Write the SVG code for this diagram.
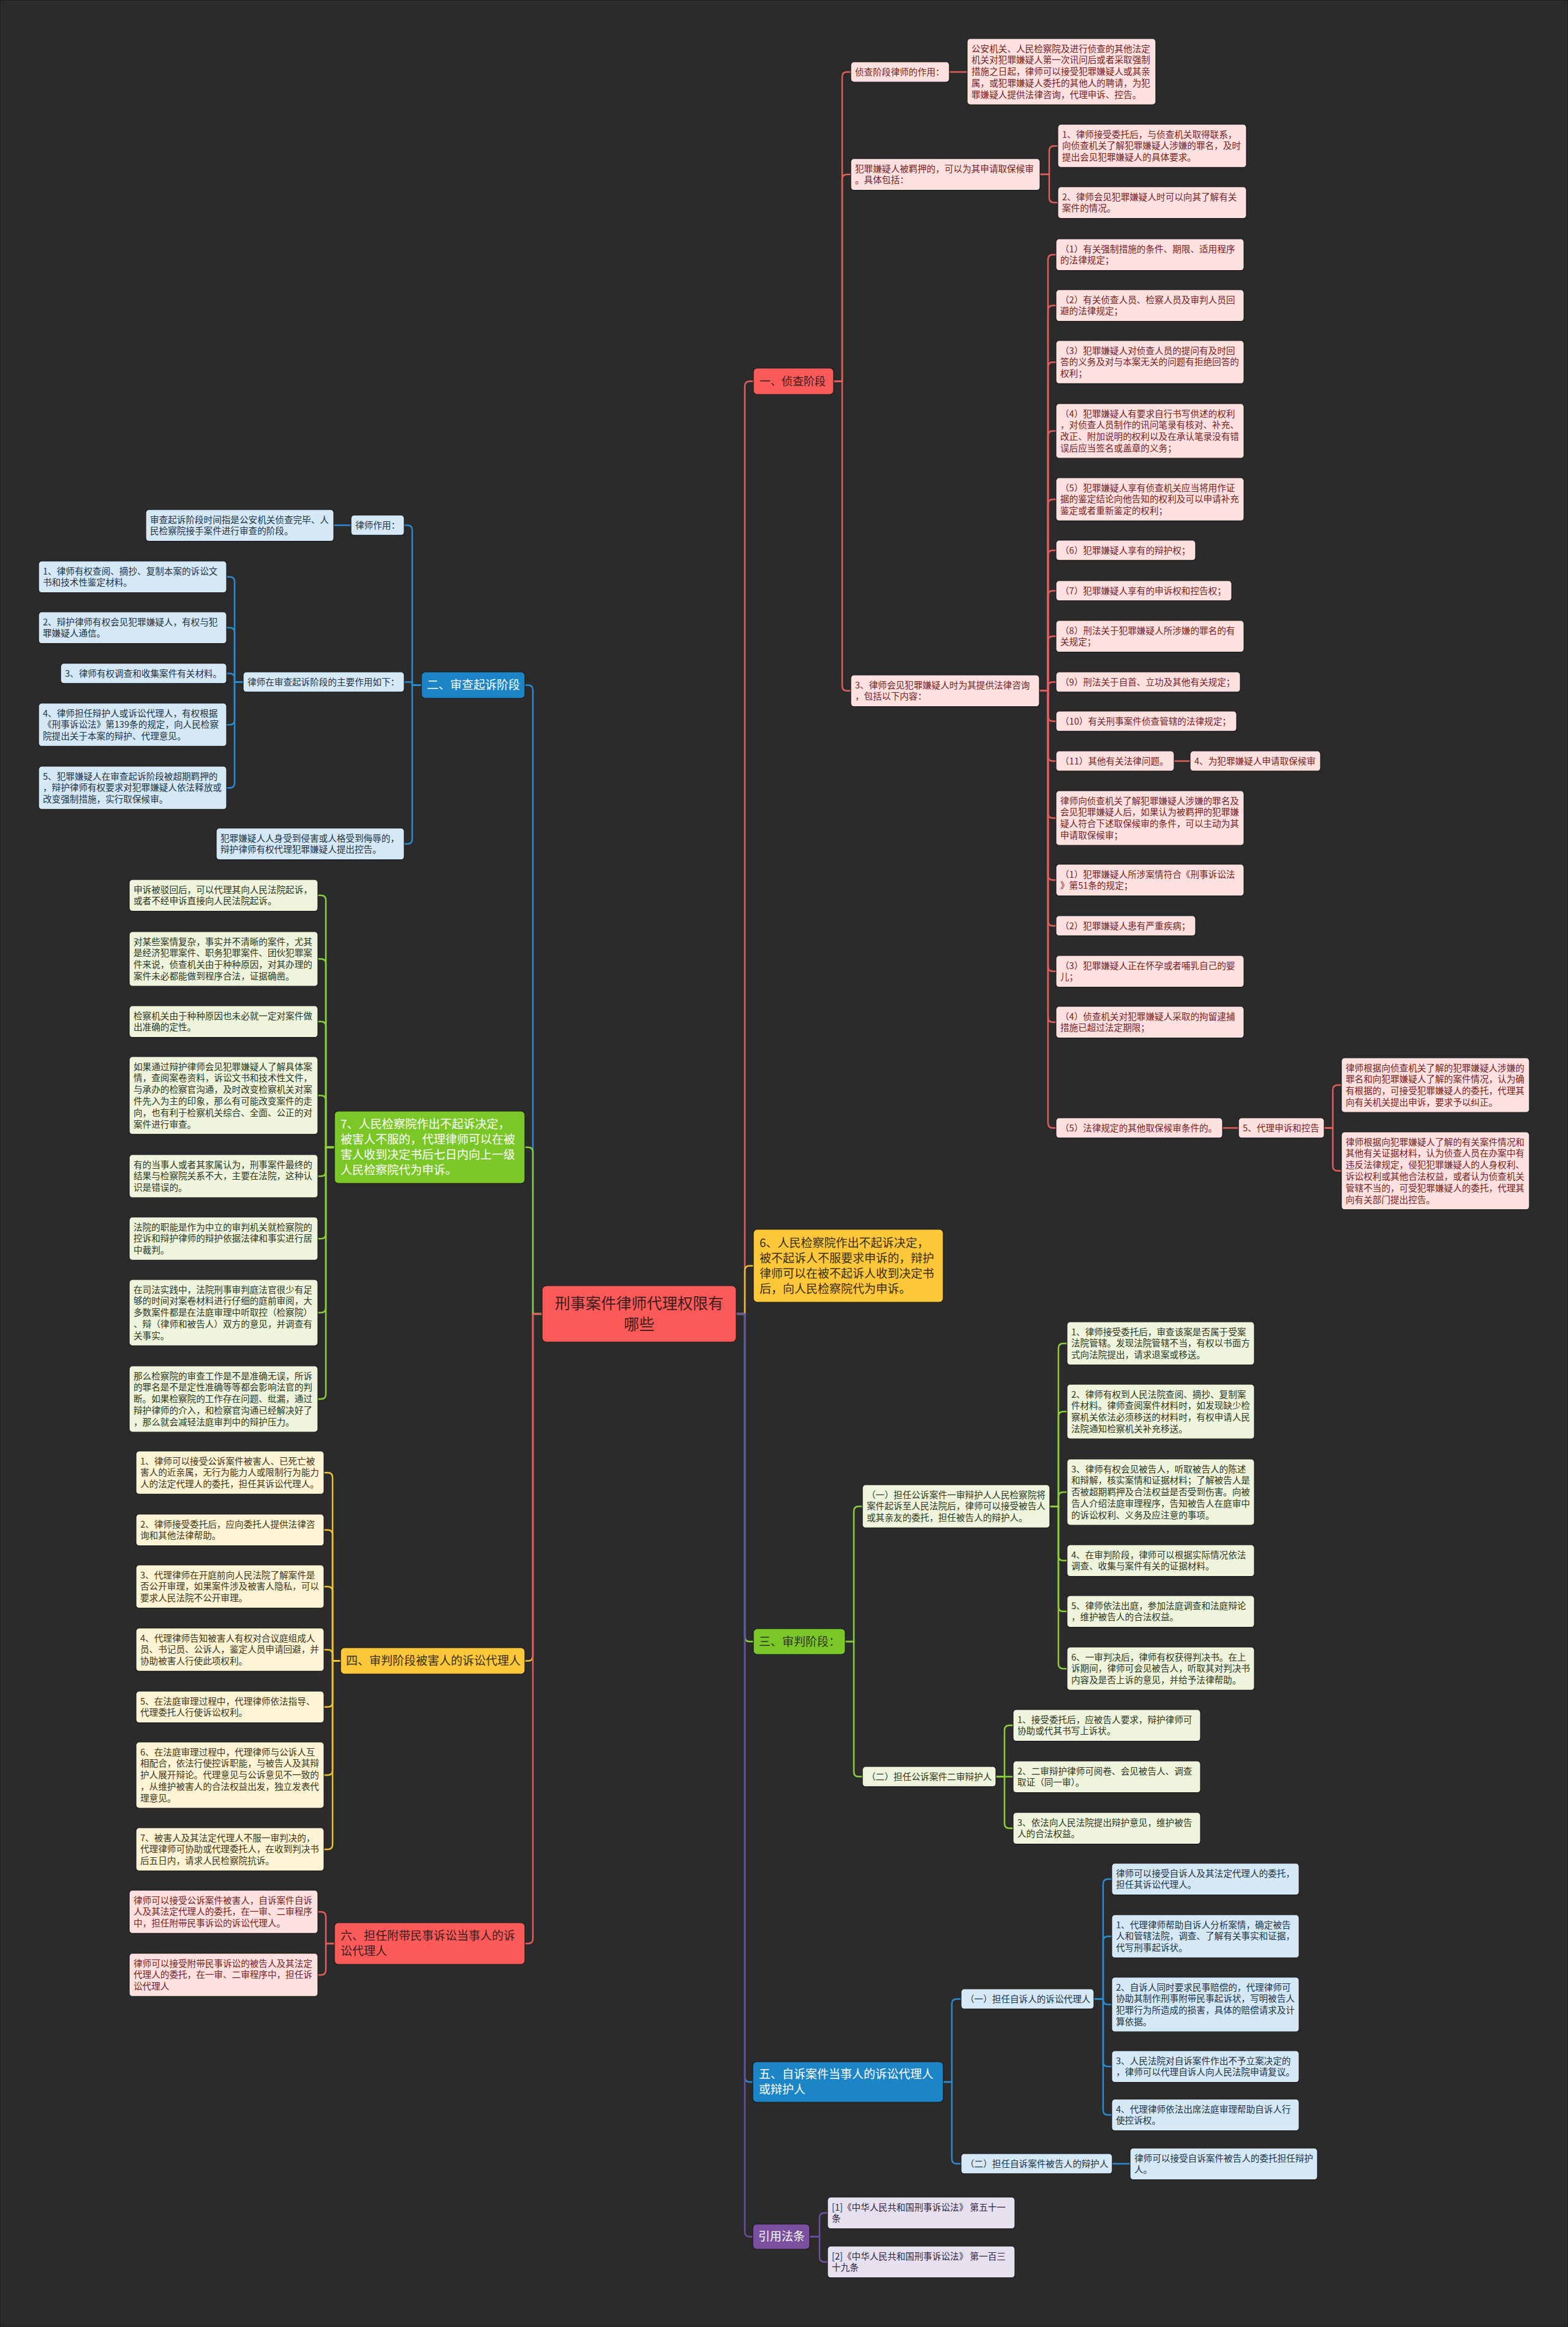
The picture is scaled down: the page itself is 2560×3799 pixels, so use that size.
<svg xmlns="http://www.w3.org/2000/svg" width="2560" height="3799" viewBox="0 0 2560 3799">
<style>
text{font-family:"Noto Sans CJK SC","Noto Sans",sans-serif}
rect{stroke:#1a1a1a;stroke-width:1.2}
.lf text{font-size:14.6px}
.br text{font-size:19px}
.lr rect{fill:#fde1e1}.lr text{fill:#7a2020}
.ly rect{fill:#fdf4d6}.ly text{fill:#3d3414}
.lg rect{fill:#eef5dc}.lg text{fill:#2c3520}
.lb rect{fill:#d5e8f5}.lb text{fill:#1d3346}
.lp rect{fill:#e6e0ef}.lp text{fill:#2d2540}
.br-r rect{fill:#fc5959}.br-r text{fill:#3a1e1e}
.br-y rect{fill:#fdc73a}.br-y text{fill:#3a2e10}
.br-g rect{fill:#7cc728}
.br-b rect{fill:#1c85c8}.br-b text{fill:#ffffff}
.br-p rect{fill:#7b4fa0}.br-p text{fill:#ffffff}
.cn path{fill:none;stroke-width:2.5;stroke-linecap:round}
.cr{stroke:#e35d5d}.cy{stroke:#f0c030}.cg{stroke:#8ccf3c}.cb{stroke:#2a8bd2}.cp{stroke:#6e4ea3}
.tk{stroke-width:3}
</style>
<rect x="0" y="0" width="2560" height="3799" fill="#2b2b2b" stroke="none"/>
<g id="connectors" class="cn">
<path class="cr tk" d="M1202 2145 H1216 V630.5 Q1216 622.5 1224 622.5 H1230"/>
<path class="cy tk" d="M1202 2145 H1216 V2074.5 Q1216 2066.5 1224 2066.5 H1230"/>
<path class="cg tk" d="M1202 2145 H1216 V2672 Q1216 2680 1224 2680 H1230"/>
<path class="cb tk" d="M1202 2145 H1216 V3391 Q1216 3399 1224 3399 H1229"/>
<path class="cp tk" d="M1202 2145 H1216 V3643.5 Q1216 3651.5 1224 3651.5 H1229"/>
<path class="cb tk" d="M885 2145 H870 V1126.5 Q870 1118.5 862 1118.5 H857"/>
<path class="cg tk" d="M885 2145 H870 V1881 Q870 1873 862 1873 H857"/>
<path class="cy tk" d="M885 2145 H870 V2703.5 Q870 2711.5 862 2711.5 H857"/>
<path class="cr tk" d="M885 2145 H870 V3165 Q870 3173 862 3173 H857"/>
<path class="cr" d="M1361 622.5 H1375 V125.4 Q1375 117.4 1383 117.4 H1389"/>
<path class="cr" d="M1361 622.5 H1375 V292.8 Q1375 284.8 1383 284.8 H1389"/>
<path class="cr" d="M1361 622.5 H1375 V1119.8 Q1375 1127.8 1383 1127.8 H1389"/>
<path class="cr" d="M1550 117.4 H1579"/>
<path class="cr" d="M1698 284.8 H1713 V246.2 Q1713 238.2 1721 238.2 H1727"/>
<path class="cr" d="M1698 284.8 H1713 V322.8 Q1713 330.8 1721 330.8 H1727"/>
<path class="cr" d="M1697 1127.8 H1711 V423.8 Q1711 415.8 1719 415.8 H1724"/>
<path class="cr" d="M1697 1127.8 H1711 V506.8 Q1711 498.8 1719 498.8 H1724"/>
<path class="cr" d="M1697 1127.8 H1711 V599.2 Q1711 591.2 1719 591.2 H1724"/>
<path class="cr" d="M1697 1127.8 H1711 V711.6 Q1711 703.6 1719 703.6 H1724"/>
<path class="cr" d="M1697 1127.8 H1711 V823.2 Q1711 815.2 1719 815.2 H1724"/>
<path class="cr" d="M1697 1127.8 H1711 V906.4 Q1711 898.4 1719 898.4 H1724"/>
<path class="cr" d="M1697 1127.8 H1711 V972.4 Q1711 964.4 1719 964.4 H1724"/>
<path class="cr" d="M1697 1127.8 H1711 V1046.8 Q1711 1038.8 1719 1038.8 H1724"/>
<path class="cr" d="M1697 1127.8 H1711 V1121.4 Q1711 1113.4 1719 1113.4 H1724"/>
<path class="cr" d="M1697 1127.8 H1711 V1169.4 Q1711 1177.4 1719 1177.4 H1724"/>
<path class="cr" d="M1697 1127.8 H1711 V1234.4 Q1711 1242.4 1719 1242.4 H1724"/>
<path class="cr" d="M1697 1127.8 H1711 V1327.6 Q1711 1335.6 1719 1335.6 H1724"/>
<path class="cr" d="M1697 1127.8 H1711 V1428.8 Q1711 1436.8 1719 1436.8 H1724"/>
<path class="cr" d="M1697 1127.8 H1711 V1503.4 Q1711 1511.4 1719 1511.4 H1724"/>
<path class="cr" d="M1697 1127.8 H1711 V1577.8 Q1711 1585.8 1719 1585.8 H1724"/>
<path class="cr" d="M1697 1127.8 H1711 V1660.8 Q1711 1668.8 1719 1668.8 H1724"/>
<path class="cr" d="M1697 1127.8 H1711 V1833.4 Q1711 1841.4 1719 1841.4 H1724"/>
<path class="cr" d="M1917 1242.4 H1943"/>
<path class="cr" d="M1996 1841.4 H2022"/>
<path class="cr" d="M2162 1841.4 H2176 V1779.6 Q2176 1771.6 2184 1771.6 H2190"/>
<path class="cr" d="M2162 1841.4 H2176 V1903.4 Q2176 1911.4 2184 1911.4 H2190"/>
<path class="cg" d="M1380 2680 H1394 V2467.2 Q1394 2459.2 1402 2459.2 H1408"/>
<path class="cg" d="M1380 2680 H1394 V2892.4 Q1394 2900.4 1402 2900.4 H1408"/>
<path class="cg" d="M1714 2459.2 H1728 V2201.2 Q1728 2193.2 1736 2193.2 H1742"/>
<path class="cg" d="M1714 2459.2 H1728 V2312.6 Q1728 2304.6 1736 2304.6 H1742"/>
<path class="cg" d="M1714 2459.2 H1728 V2444 Q1728 2436 1736 2436 H1742"/>
<path class="cg" d="M1714 2459.2 H1728 V2539.8 Q1728 2547.8 1736 2547.8 H1742"/>
<path class="cg" d="M1714 2459.2 H1728 V2622.8 Q1728 2630.8 1736 2630.8 H1742"/>
<path class="cg" d="M1714 2459.2 H1728 V2716.2 Q1728 2724.2 1736 2724.2 H1742"/>
<path class="cg" d="M1626 2900.4 H1640 V2824.8 Q1640 2816.8 1648 2816.8 H1654"/>
<path class="cg" d="M1626 2900.4 H1654"/>
<path class="cg" d="M1626 2900.4 H1640 V2976.8 Q1640 2984.8 1648 2984.8 H1654"/>
<path class="cb" d="M1540 3399 H1554 V3271.4 Q1554 3263.4 1562 3263.4 H1569"/>
<path class="cb" d="M1540 3399 H1554 V3524.4 Q1554 3532.4 1562 3532.4 H1569"/>
<path class="cb" d="M1786 3263.4 H1801 V3075.8 Q1801 3067.8 1809 3067.8 H1815"/>
<path class="cb" d="M1786 3263.4 H1801 V3169.2 Q1801 3161.2 1809 3161.2 H1815"/>
<path class="cb" d="M1786 3263.4 H1801 V3264.6 Q1801 3272.6 1809 3272.6 H1815"/>
<path class="cb" d="M1786 3263.4 H1801 V3365.8 Q1801 3373.8 1809 3373.8 H1815"/>
<path class="cb" d="M1786 3263.4 H1801 V3444.8 Q1801 3452.8 1809 3452.8 H1815"/>
<path class="cb" d="M1816 3532.4 H1845"/>
<path class="cp" d="M1322 3651.5 H1338 V3620.8 Q1338 3612.8 1346 3612.8 H1351"/>
<path class="cp" d="M1322 3651.5 H1338 V3684.8 Q1338 3692.8 1346 3692.8 H1351"/>
<path class="cb" d="M688 1118.5 H673 V865.4 Q673 857.4 665 857.4 H660"/>
<path class="cb" d="M688 1118.5 H673 V1113.4 H660"/>
<path class="cb" d="M688 1118.5 H673 V1369.8 Q673 1377.8 665 1377.8 H660"/>
<path class="cb" d="M573 857.4 H545"/>
<path class="cb" d="M397 1113.4 H383 V949.8 Q383 941.8 375 941.8 H370"/>
<path class="cb" d="M397 1113.4 H383 V1032.8 Q383 1024.8 375 1024.8 H370"/>
<path class="cb" d="M397 1113.4 H383 V1107.4 Q383 1099.4 375 1099.4 H370"/>
<path class="cb" d="M397 1113.4 H383 V1175.2 Q383 1183.2 375 1183.2 H370"/>
<path class="cb" d="M397 1113.4 H383 V1278.2 Q383 1286.2 375 1286.2 H370"/>
<path class="cg" d="M546 1873 H532 V1469.8 Q532 1461.8 524 1461.8 H519"/>
<path class="cg" d="M546 1873 H532 V1573.6 Q532 1565.6 524 1565.6 H519"/>
<path class="cg" d="M546 1873 H532 V1675.8 Q532 1667.8 524 1667.8 H519"/>
<path class="cg" d="M546 1873 H532 V1796.4 Q532 1788.4 524 1788.4 H519"/>
<path class="cg" d="M546 1873 H532 V1912.2 Q532 1920.2 524 1920.2 H519"/>
<path class="cg" d="M546 1873 H532 V2014.2 Q532 2022.2 524 2022.2 H519"/>
<path class="cg" d="M546 1873 H532 V2135 Q532 2143 524 2143 H519"/>
<path class="cg" d="M546 1873 H532 V2276 Q532 2284 524 2284 H519"/>
<path class="cy" d="M556 2711.5 H543 V2412.2 Q543 2404.2 535 2404.2 H529"/>
<path class="cy" d="M556 2711.5 H543 V2505.8 Q543 2497.8 535 2497.8 H529"/>
<path class="cy" d="M556 2711.5 H543 V2598.2 Q543 2590.2 535 2590.2 H529"/>
<path class="cy" d="M556 2711.5 H543 V2701.2 Q543 2693.2 535 2693.2 H529"/>
<path class="cy" d="M556 2711.5 H543 V2778.8 Q543 2786.8 535 2786.8 H529"/>
<path class="cy" d="M556 2711.5 H543 V2890 Q543 2898 535 2898 H529"/>
<path class="cy" d="M556 2711.5 H543 V3011.2 Q543 3019.2 535 3019.2 H529"/>
<path class="cr" d="M546 3173 H532 V3129.2 Q532 3121.2 524 3121.2 H519"/>
<path class="cr" d="M546 3173 H532 V3216.2 Q532 3224.2 524 3224.2 H519"/>
</g>

<g id="root" class="br-r"><rect x="885" y="2099" width="317" height="92" rx="7"/>
<text x="1043.5" y="2137" font-size="25" text-anchor="middle"><tspan x="1043.5">刑事案件律师代理权限有</tspan><tspan x="1043.5" dy="34">哪些</tspan></text></g>

<g id="b1" class="br br-r"><rect x="1230" y="601" width="131" height="43" rx="6"/><text x="1240" y="629" style="font-size:18px">一、侦查阶段</text></g>
<g id="b1a" class="lf lr"><rect x="1389" y="101" width="161" height="33" rx="5"/><text x="1396" y="122.6">侦查阶段律师的作用：</text></g>
<g id="b1a1" class="lf lr"><rect x="1579" y="63" width="308" height="108" rx="5"/><text x="1586" y="84.6"><tspan x="1586">公安机关、人民检察院及进行侦查的其他法定</tspan><tspan x="1586" dy="18.8">机关对犯罪嫌疑人第一次讯问后或者采取强制</tspan><tspan x="1586" dy="18.8">措施之日起，律师可以接受犯罪嫌疑人或其亲</tspan><tspan x="1586" dy="18.8">属，或犯罪嫌疑人委托的其他人的聘请，为犯</tspan><tspan x="1586" dy="18.8">罪嫌疑人提供法律咨询，代理申诉、控告。</tspan></text></g>
<g id="b1b" class="lf lr"><rect x="1389" y="259" width="309" height="51.6" rx="5"/><text x="1396" y="280.6"><tspan x="1396">犯罪嫌疑人被羁押的，可以为其申请取保候审</tspan><tspan x="1396" dy="18.8">。具体包括：</tspan></text></g>
<g id="b1b1" class="lf lr"><rect x="1727" y="203" width="308" height="70.4" rx="5"/><text x="1734" y="224.6"><tspan x="1734">1、律师接受委托后，与侦查机关取得联系，</tspan><tspan x="1734" dy="18.8">向侦查机关了解犯罪嫌疑人涉嫌的罪名，及时</tspan><tspan x="1734" dy="18.8">提出会见犯罪嫌疑人的具体要求。</tspan></text></g>
<g id="b1b2" class="lf lr"><rect x="1727" y="305" width="308" height="51.6" rx="5"/><text x="1734" y="326.6"><tspan x="1734">2、律师会见犯罪嫌疑人时可以向其了解有关</tspan><tspan x="1734" dy="18.8">案件的情况。</tspan></text></g>
<g id="b1c" class="lf lr"><rect x="1389" y="1102" width="308" height="51.6" rx="5"/><text x="1396" y="1123.6"><tspan x="1396">3、律师会见犯罪嫌疑人时为其提供法律咨询</tspan><tspan x="1396" dy="18.8">，包括以下内容：</tspan></text></g>
<g id="c1" class="lf lr"><rect x="1724" y="390" width="307" height="51.6" rx="5"/><text x="1731" y="411.6"><tspan x="1731">（1）有关强制措施的条件、期限、适用程序</tspan><tspan x="1731" dy="18.8">的法律规定；</tspan></text></g>
<g id="c2" class="lf lr"><rect x="1724" y="473" width="307" height="51.6" rx="5"/><text x="1731" y="494.6"><tspan x="1731">（2）有关侦查人员、检察人员及审判人员回</tspan><tspan x="1731" dy="18.8">避的法律规定；</tspan></text></g>
<g id="c3" class="lf lr"><rect x="1724" y="556" width="307" height="70.4" rx="5"/><text x="1731" y="577.6"><tspan x="1731">（3）犯罪嫌疑人对侦查人员的提问有及时回</tspan><tspan x="1731" dy="18.8">答的义务及对与本案无关的问题有拒绝回答的</tspan><tspan x="1731" dy="18.8">权利；</tspan></text></g>
<g id="c4" class="lf lr"><rect x="1724" y="659" width="307" height="89.2" rx="5"/><text x="1731" y="680.6"><tspan x="1731">（4）犯罪嫌疑人有要求自行书写供述的权利</tspan><tspan x="1731" dy="18.8">，对侦查人员制作的讯问笔录有核对、补充、</tspan><tspan x="1731" dy="18.8">改正、附加说明的权利以及在承认笔录没有错</tspan><tspan x="1731" dy="18.8">误后应当签名或盖章的义务；</tspan></text></g>
<g id="c5" class="lf lr"><rect x="1724" y="780" width="307" height="70.4" rx="5"/><text x="1731" y="801.6"><tspan x="1731">（5）犯罪嫌疑人享有侦查机关应当将用作证</tspan><tspan x="1731" dy="18.8">据的鉴定结论向他告知的权利及可以申请补充</tspan><tspan x="1731" dy="18.8">鉴定或者重新鉴定的权利；</tspan></text></g>
<g id="c6" class="lf lr"><rect x="1724" y="882" width="228" height="32.8" rx="5"/><text x="1731" y="903.6">（6）犯罪嫌疑人享有的辩护权；</text></g>
<g id="c7" class="lf lr"><rect x="1724" y="948" width="287" height="32.8" rx="5"/><text x="1731" y="969.6">（7）犯罪嫌疑人享有的申诉权和控告权；</text></g>
<g id="c8" class="lf lr"><rect x="1724" y="1013" width="307" height="51.6" rx="5"/><text x="1731" y="1034.6"><tspan x="1731">（8）刑法关于犯罪嫌疑人所涉嫌的罪名的有</tspan><tspan x="1731" dy="18.8">关规定；</tspan></text></g>
<g id="c9" class="lf lr"><rect x="1724" y="1097" width="301" height="32.8" rx="5"/><text x="1731" y="1118.6">（9）刑法关于自首、立功及其他有关规定；</text></g>
<g id="c10" class="lf lr"><rect x="1724" y="1161" width="295" height="32.8" rx="5"/><text x="1731" y="1182.6">（10）有关刑事案件侦查管辖的法律规定；</text></g>
<g id="c11" class="lf lr"><rect x="1724" y="1226" width="193" height="32.8" rx="5"/><text x="1731" y="1247.6">（11）其他有关法律问题。</text></g>
<g id="c11a" class="lf lr"><rect x="1943" y="1226" width="213" height="32.8" rx="5"/><text x="1950" y="1247.6">4、为犯罪嫌疑人申请取保候审</text></g>
<g id="c12" class="lf lr"><rect x="1724" y="1291" width="307" height="89.2" rx="5"/><text x="1731" y="1312.6"><tspan x="1731">律师向侦查机关了解犯罪嫌疑人涉嫌的罪名及</tspan><tspan x="1731" dy="18.8">会见犯罪嫌疑人后，如果认为被羁押的犯罪嫌</tspan><tspan x="1731" dy="18.8">疑人符合下述取保候审的条件，可以主动为其</tspan><tspan x="1731" dy="18.8">申请取保候审；</tspan></text></g>
<g id="c13" class="lf lr"><rect x="1724" y="1411" width="307" height="51.6" rx="5"/><text x="1731" y="1432.6"><tspan x="1731">（1）犯罪嫌疑人所涉案情符合《刑事诉讼法</tspan><tspan x="1731" dy="18.8">》第51条的规定；</tspan></text></g>
<g id="c14" class="lf lr"><rect x="1724" y="1495" width="228" height="32.8" rx="5"/><text x="1731" y="1516.6">（2）犯罪嫌疑人患有严重疾病；</text></g>
<g id="c15" class="lf lr"><rect x="1724" y="1560" width="307" height="51.6" rx="5"/><text x="1731" y="1581.6"><tspan x="1731">（3）犯罪嫌疑人正在怀孕或者哺乳自己的婴</tspan><tspan x="1731" dy="18.8">儿；</tspan></text></g>
<g id="c16" class="lf lr"><rect x="1724" y="1643" width="307" height="51.6" rx="5"/><text x="1731" y="1664.6"><tspan x="1731">（4）侦查机关对犯罪嫌疑人采取的拘留逮捕</tspan><tspan x="1731" dy="18.8">措施已超过法定期限；</tspan></text></g>
<g id="c17" class="lf lr"><rect x="1724" y="1825" width="272" height="32.8" rx="5"/><text x="1731" y="1846.6">（5）法律规定的其他取保候审条件的。</text></g>
<g id="c17a" class="lf lr"><rect x="2022" y="1825" width="140" height="32.8" rx="5"/><text x="2029" y="1846.6">5、代理申诉和控告</text></g>
<g id="c17a1" class="lf lr"><rect x="2190" y="1727" width="307" height="89.2" rx="5"/><text x="2197" y="1748.6"><tspan x="2197">律师根据向侦查机关了解的犯罪嫌疑人涉嫌的</tspan><tspan x="2197" dy="18.8">罪名和向犯罪嫌疑人了解的案件情况，认为确</tspan><tspan x="2197" dy="18.8">有根据的，可接受犯罪嫌疑人的委托，代理其</tspan><tspan x="2197" dy="18.8">向有关机关提出申诉，要求予以纠正。</tspan></text></g>
<g id="c17a2" class="lf lr"><rect x="2190" y="1848" width="307" height="126.8" rx="5"/><text x="2197" y="1869.6"><tspan x="2197">律师根据向犯罪嫌疑人了解的有关案件情况和</tspan><tspan x="2197" dy="18.8">其他有关证据材料，认为侦查人员在办案中有</tspan><tspan x="2197" dy="18.8">违反法律规定，侵犯犯罪嫌疑人的人身权利、</tspan><tspan x="2197" dy="18.8">诉讼权利或其他合法权益，或者认为侦查机关</tspan><tspan x="2197" dy="18.8">管辖不当的，可受犯罪嫌疑人的委托，代理其</tspan><tspan x="2197" dy="18.8">向有关部门提出控告。</tspan></text></g>

<g id="b6" class="br br-y"><rect x="1230" y="2007" width="310" height="119" rx="6"/><text x="1240" y="2035.7"><tspan x="1240">6、人民检察院作出不起诉决定，</tspan><tspan x="1240" dy="25">被不起诉人不服要求申诉的，辩护</tspan><tspan x="1240" dy="25">律师可以在被不起诉人收到决定书</tspan><tspan x="1240" dy="25">后，向人民检察院代为申诉。</tspan></text></g>

<g id="b3" class="br br-g"><rect x="1230" y="2659" width="150" height="42" rx="6"/><text x="1239" y="2686.7" fill="#2c3520">三、审判阶段：</text></g>
<g id="b3a" class="lf lg"><rect x="1408" y="2424" width="306" height="70.4" rx="5"/><text x="1415" y="2445.6"><tspan x="1415">（一）担任公诉案件一审辩护人人民检察院将</tspan><tspan x="1415" dy="18.8">案件起诉至人民法院后，律师可以接受被告人</tspan><tspan x="1415" dy="18.8">或其亲友的委托，担任被告人的辩护人。</tspan></text></g>
<g id="b3a1" class="lf lg"><rect x="1742" y="2158" width="306" height="70.4" rx="5"/><text x="1749" y="2179.6"><tspan x="1749">1、律师接受委托后，审查该案是否属于受案</tspan><tspan x="1749" dy="18.8">法院管辖。发现法院管辖不当，有权以书面方</tspan><tspan x="1749" dy="18.8">式向法院提出，请求退案或移送。</tspan></text></g>
<g id="b3a2" class="lf lg"><rect x="1742" y="2260" width="306" height="89.2" rx="5"/><text x="1749" y="2281.6"><tspan x="1749">2、律师有权到人民法院查阅、摘抄、复制案</tspan><tspan x="1749" dy="18.8">件材料。律师查阅案件材料时，如发现缺少检</tspan><tspan x="1749" dy="18.8">察机关依法必须移送的材料时，有权申请人民</tspan><tspan x="1749" dy="18.8">法院通知检察机关补充移送。</tspan></text></g>
<g id="b3a3" class="lf lg"><rect x="1742" y="2382" width="306" height="108" rx="5"/><text x="1749" y="2403.6"><tspan x="1749">3、律师有权会见被告人，听取被告人的陈述</tspan><tspan x="1749" dy="18.8">和辩解，核实案情和证据材料；了解被告人是</tspan><tspan x="1749" dy="18.8">否被超期羁押及合法权益是否受到伤害。向被</tspan><tspan x="1749" dy="18.8">告人介绍法庭审理程序，告知被告人在庭审中</tspan><tspan x="1749" dy="18.8">的诉讼权利、义务及应注意的事项。</tspan></text></g>
<g id="b3a4" class="lf lg"><rect x="1742" y="2522" width="306" height="51.6" rx="5"/><text x="1749" y="2543.6"><tspan x="1749">4、在审判阶段，律师可以根据实际情况依法</tspan><tspan x="1749" dy="18.8">调查、收集与案件有关的证据材料。</tspan></text></g>
<g id="b3a5" class="lf lg"><rect x="1742" y="2605" width="306" height="51.6" rx="5"/><text x="1749" y="2626.6"><tspan x="1749">5、律师依法出庭，参加法庭调查和法庭辩论</tspan><tspan x="1749" dy="18.8">，维护被告人的合法权益。</tspan></text></g>
<g id="b3a6" class="lf lg"><rect x="1742" y="2689" width="306" height="70.4" rx="5"/><text x="1749" y="2710.6"><tspan x="1749">6、一审判决后，律师有权获得判决书。在上</tspan><tspan x="1749" dy="18.8">诉期间，律师可会见被告人，听取其对判决书</tspan><tspan x="1749" dy="18.8">内容及是否上诉的意见，并给予法律帮助。</tspan></text></g>
<g id="b3b" class="lf lg"><rect x="1408" y="2884" width="218" height="32.8" rx="5"/><text x="1415" y="2905.6">（二）担任公诉案件二审辩护人</text></g>
<g id="b3b1" class="lf lg"><rect x="1654" y="2791" width="306" height="51.6" rx="5"/><text x="1661" y="2812.6"><tspan x="1661">1、接受委托后，应被告人要求，辩护律师可</tspan><tspan x="1661" dy="18.8">协助或代其书写上诉状。</tspan></text></g>
<g id="b3b2" class="lf lg"><rect x="1654" y="2875" width="306" height="51.6" rx="5"/><text x="1661" y="2896.6"><tspan x="1661">2、二审辩护律师可阅卷、会见被告人、调查</tspan><tspan x="1661" dy="18.8">取证（同一审）。</tspan></text></g>
<g id="b3b3" class="lf lg"><rect x="1654" y="2959" width="306" height="51.6" rx="5"/><text x="1661" y="2980.6"><tspan x="1661">3、依法向人民法院提出辩护意见，维护被告</tspan><tspan x="1661" dy="18.8">人的合法权益。</tspan></text></g>

<g id="b5" class="br br-b"><rect x="1229" y="3366" width="311" height="66" rx="6"/><text x="1239" y="3393.2"><tspan x="1239">五、自诉案件当事人的诉讼代理人</tspan><tspan x="1239" dy="25">或辩护人</tspan></text></g>
<g id="b5a" class="lf lb"><rect x="1569" y="3247" width="217" height="32.8" rx="5"/><text x="1576" y="3268.6">（一）担任自诉人的诉讼代理人</text></g>
<g id="b5a0" class="lf lb"><rect x="1815" y="3042" width="306" height="51.6" rx="5"/><text x="1822" y="3063.6"><tspan x="1822">律师可以接受自诉人及其法定代理人的委托，</tspan><tspan x="1822" dy="18.8">担任其诉讼代理人。</tspan></text></g>
<g id="b5a1" class="lf lb"><rect x="1815" y="3126" width="306" height="70.4" rx="5"/><text x="1822" y="3147.6"><tspan x="1822">1、代理律师帮助自诉人分析案情，确定被告</tspan><tspan x="1822" dy="18.8">人和管辖法院，调查、了解有关事实和证据，</tspan><tspan x="1822" dy="18.8">代写刑事起诉状。</tspan></text></g>
<g id="b5a2" class="lf lb"><rect x="1815" y="3228" width="306" height="89.2" rx="5"/><text x="1822" y="3249.6"><tspan x="1822">2、自诉人同时要求民事赔偿的，代理律师可</tspan><tspan x="1822" dy="18.8">协助其制作刑事附带民事起诉状，写明被告人</tspan><tspan x="1822" dy="18.8">犯罪行为所造成的损害，具体的赔偿请求及计</tspan><tspan x="1822" dy="18.8">算依据。</tspan></text></g>
<g id="b5a3" class="lf lb"><rect x="1815" y="3348" width="306" height="51.6" rx="5"/><text x="1822" y="3369.6"><tspan x="1822">3、人民法院对自诉案件作出不予立案决定的</tspan><tspan x="1822" dy="18.8">，律师可以代理自诉人向人民法院申请复议。</tspan></text></g>
<g id="b5a4" class="lf lb"><rect x="1815" y="3427" width="306" height="51.6" rx="5"/><text x="1822" y="3448.6"><tspan x="1822">4、代理律师依法出席法庭审理帮助自诉人行</tspan><tspan x="1822" dy="18.8">使控诉权。</tspan></text></g>
<g id="b5b" class="lf lb"><rect x="1569" y="3516" width="247" height="32.8" rx="5"/><text x="1576" y="3537.6">（二）担任自诉案件被告人的辩护人</text></g>
<g id="b5b1" class="lf lb"><rect x="1845" y="3507" width="306" height="51.6" rx="5"/><text x="1852" y="3528.6"><tspan x="1852">律师可以接受自诉案件被告人的委托担任辩护</tspan><tspan x="1852" dy="18.8">人。</tspan></text></g>

<g id="b8" class="br br-p"><rect x="1229" y="3631" width="93" height="41" rx="6"/><text x="1238" y="3658.2">引用法条</text></g>
<g id="b8a" class="lf lp"><rect x="1351" y="3587" width="306" height="51.6" rx="5"/><text x="1358" y="3608.6"><tspan x="1358">[1]《中华人民共和国刑事诉讼法》 第五十一</tspan><tspan x="1358" dy="18.8">条</tspan></text></g>
<g id="b8b" class="lf lp"><rect x="1351" y="3667" width="306" height="51.6" rx="5"/><text x="1358" y="3688.6"><tspan x="1358">[2]《中华人民共和国刑事诉讼法》 第一百三</tspan><tspan x="1358" dy="18.8">十九条</tspan></text></g>

<g id="b2" class="br br-b"><rect x="688" y="1097" width="169" height="43" rx="6"/><text x="697" y="1125.2">二、审查起诉阶段</text></g>
<g id="b2a" class="lf lb"><rect x="573" y="841" width="87" height="32.8" rx="5"/><text x="580" y="862.6">律师作用：</text></g>
<g id="b2a1" class="lf lb"><rect x="238" y="832" width="307" height="51.6" rx="5"/><text x="245" y="853.6"><tspan x="245">审查起诉阶段时间指是公安机关侦查完毕、人</tspan><tspan x="245" dy="18.8">民检察院接手案件进行审查的阶段。</tspan></text></g>
<g id="b2b" class="lf lb"><rect x="397" y="1097" width="263" height="32.8" rx="5"/><text x="404" y="1118.6">律师在审查起诉阶段的主要作用如下：</text></g>
<g id="b2b1" class="lf lb"><rect x="63" y="916" width="307" height="51.6" rx="5"/><text x="70" y="937.6"><tspan x="70">1、律师有权查阅、摘抄、复制本案的诉讼文</tspan><tspan x="70" dy="18.8">书和技术性鉴定材料。</tspan></text></g>
<g id="b2b2" class="lf lb"><rect x="63" y="999" width="307" height="51.6" rx="5"/><text x="70" y="1020.6"><tspan x="70">2、辩护律师有权会见犯罪嫌疑人，有权与犯</tspan><tspan x="70" dy="18.8">罪嫌疑人通信。</tspan></text></g>
<g id="b2b3" class="lf lb"><rect x="99" y="1083" width="271" height="32.8" rx="5"/><text x="106" y="1104.6">3、律师有权调查和收集案件有关材料。</text></g>
<g id="b2b4" class="lf lb"><rect x="63" y="1148" width="307" height="70.4" rx="5"/><text x="70" y="1169.6"><tspan x="70">4、律师担任辩护人或诉讼代理人，有权根据</tspan><tspan x="70" dy="18.8">《刑事诉讼法》第139条的规定，向人民检察</tspan><tspan x="70" dy="18.8">院提出关于本案的辩护、代理意见。</tspan></text></g>
<g id="b2b5" class="lf lb"><rect x="63" y="1251" width="307" height="70.4" rx="5"/><text x="70" y="1272.6"><tspan x="70">5、犯罪嫌疑人在审查起诉阶段被超期羁押的</tspan><tspan x="70" dy="18.8">，辩护律师有权要求对犯罪嫌疑人依法释放或</tspan><tspan x="70" dy="18.8">改变强制措施，实行取保候审。</tspan></text></g>
<g id="b2c" class="lf lb"><rect x="353" y="1352" width="307" height="51.6" rx="5"/><text x="360" y="1373.6"><tspan x="360">犯罪嫌疑人人身受到侵害或人格受到侮辱的，</tspan><tspan x="360" dy="18.8">辩护律师有权代理犯罪嫌疑人提出控告。</tspan></text></g>

<g id="b7" class="br br-g"><rect x="546" y="1814" width="311" height="118" rx="6"/><text x="556" y="1842.2" fill="#ffffff"><tspan x="556">7、人民检察院作出不起诉决定，</tspan><tspan x="556" dy="25">被害人不服的，代理律师可以在被</tspan><tspan x="556" dy="25">害人收到决定书后七日内向上一级</tspan><tspan x="556" dy="25">人民检察院代为申诉。</tspan></text></g>
<g id="b7a" class="lf lg"><rect x="211" y="1436" width="308" height="51.6" rx="5"/><text x="218" y="1457.6"><tspan x="218">申诉被驳回后，可以代理其向人民法院起诉，</tspan><tspan x="218" dy="18.8">或者不经申诉直接向人民法院起诉。</tspan></text></g>
<g id="b7b" class="lf lg"><rect x="211" y="1521" width="308" height="89.2" rx="5"/><text x="218" y="1542.6"><tspan x="218">对某些案情复杂，事实并不清晰的案件，尤其</tspan><tspan x="218" dy="18.8">是经济犯罪案件、职务犯罪案件、团伙犯罪案</tspan><tspan x="218" dy="18.8">件来说，侦查机关由于种种原因，对其办理的</tspan><tspan x="218" dy="18.8">案件未必都能做到程序合法，证据确凿。</tspan></text></g>
<g id="b7c" class="lf lg"><rect x="211" y="1642" width="308" height="51.6" rx="5"/><text x="218" y="1663.6"><tspan x="218">检察机关由于种种原因也未必就一定对案件做</tspan><tspan x="218" dy="18.8">出准确的定性。</tspan></text></g>
<g id="b7d" class="lf lg"><rect x="211" y="1725" width="308" height="126.8" rx="5"/><text x="218" y="1746.6"><tspan x="218">如果通过辩护律师会见犯罪嫌疑人了解具体案</tspan><tspan x="218" dy="18.8">情，查阅案卷资料，诉讼文书和技术性文件，</tspan><tspan x="218" dy="18.8">与承办的检察官沟通，及时改变检察机关对案</tspan><tspan x="218" dy="18.8">件先入为主的印象，那么有可能改变案件的走</tspan><tspan x="218" dy="18.8">向，也有利于检察机关综合、全面、公正的对</tspan><tspan x="218" dy="18.8">案件进行审查。</tspan></text></g>
<g id="b7e" class="lf lg"><rect x="211" y="1885" width="308" height="70.4" rx="5"/><text x="218" y="1906.6"><tspan x="218">有的当事人或者其家属认为，刑事案件最终的</tspan><tspan x="218" dy="18.8">结果与检察院关系不大，主要在法院，这种认</tspan><tspan x="218" dy="18.8">识是错误的。</tspan></text></g>
<g id="b7f" class="lf lg"><rect x="211" y="1987" width="308" height="70.4" rx="5"/><text x="218" y="2008.6"><tspan x="218">法院的职能是作为中立的审判机关就检察院的</tspan><tspan x="218" dy="18.8">控诉和辩护律师的辩护依据法律和事实进行居</tspan><tspan x="218" dy="18.8">中裁判。</tspan></text></g>
<g id="b7g" class="lf lg"><rect x="211" y="2089" width="308" height="108" rx="5"/><text x="218" y="2110.6"><tspan x="218">在司法实践中，法院刑事审判庭法官很少有足</tspan><tspan x="218" dy="18.8">够的时间对案卷材料进行仔细的庭前审阅，大</tspan><tspan x="218" dy="18.8">多数案件都是在法庭审理中听取控（检察院）</tspan><tspan x="218" dy="18.8">、辩（律师和被告人）双方的意见，并调查有</tspan><tspan x="218" dy="18.8">关事实。</tspan></text></g>
<g id="b7h" class="lf lg"><rect x="211" y="2230" width="308" height="108" rx="5"/><text x="218" y="2251.6"><tspan x="218">那么检察院的审查工作是不是准确无误，所诉</tspan><tspan x="218" dy="18.8">的罪名是不是定性准确等等都会影响法官的判</tspan><tspan x="218" dy="18.8">断。如果检察院的工作存在问题、纰漏，通过</tspan><tspan x="218" dy="18.8">辩护律师的介入，和检察官沟通已经解决好了</tspan><tspan x="218" dy="18.8">，那么就会减轻法庭审判中的辩护压力。</tspan></text></g>

<g id="b4" class="br br-y"><rect x="556" y="2690" width="301" height="43" rx="6"/><text x="565" y="2718.2">四、审判阶段被害人的诉讼代理人</text></g>
<g id="b4a" class="lf ly"><rect x="222" y="2369" width="307" height="70.4" rx="5"/><text x="229" y="2390.6"><tspan x="229">1、律师可以接受公诉案件被害人、已死亡被</tspan><tspan x="229" dy="18.8">害人的近亲属，无行为能力人或限制行为能力</tspan><tspan x="229" dy="18.8">人的法定代理人的委托，担任其诉讼代理人。</tspan></text></g>
<g id="b4b" class="lf ly"><rect x="222" y="2472" width="307" height="51.6" rx="5"/><text x="229" y="2493.6"><tspan x="229">2、律师接受委托后，应向委托人提供法律咨</tspan><tspan x="229" dy="18.8">询和其他法律帮助。</tspan></text></g>
<g id="b4c" class="lf ly"><rect x="222" y="2555" width="307" height="70.4" rx="5"/><text x="229" y="2576.6"><tspan x="229">3、代理律师在开庭前向人民法院了解案件是</tspan><tspan x="229" dy="18.8">否公开审理，如果案件涉及被害人隐私，可以</tspan><tspan x="229" dy="18.8">要求人民法院不公开审理。</tspan></text></g>
<g id="b4d" class="lf ly"><rect x="222" y="2658" width="307" height="70.4" rx="5"/><text x="229" y="2679.6"><tspan x="229">4、代理律师告知被害人有权对合议庭组成人</tspan><tspan x="229" dy="18.8">员、书记员、公诉人，鉴定人员申请回避，并</tspan><tspan x="229" dy="18.8">协助被害人行使此项权利。</tspan></text></g>
<g id="b4e" class="lf ly"><rect x="222" y="2761" width="307" height="51.6" rx="5"/><text x="229" y="2782.6"><tspan x="229">5、在法庭审理过程中，代理律师依法指导、</tspan><tspan x="229" dy="18.8">代理委托人行使诉讼权利。</tspan></text></g>
<g id="b4f" class="lf ly"><rect x="222" y="2844" width="307" height="108" rx="5"/><text x="229" y="2865.6"><tspan x="229">6、在法庭审理过程中，代理律师与公诉人互</tspan><tspan x="229" dy="18.8">相配合，依法行使控诉职能，与被告人及其辩</tspan><tspan x="229" dy="18.8">护人展开辩论。代理意见与公诉意见不一致的</tspan><tspan x="229" dy="18.8">，从维护被害人的合法权益出发，独立发表代</tspan><tspan x="229" dy="18.8">理意见。</tspan></text></g>
<g id="b4g" class="lf ly"><rect x="222" y="2984" width="307" height="70.4" rx="5"/><text x="229" y="3005.6"><tspan x="229">7、被害人及其法定代理人不服一审判决的，</tspan><tspan x="229" dy="18.8">代理律师可协助或代理委托人，在收到判决书</tspan><tspan x="229" dy="18.8">后五日内，请求人民检察院抗诉。</tspan></text></g>

<g id="b9" class="br br-r"><rect x="546" y="3139" width="311" height="68" rx="6"/><text x="556" y="3167.2"><tspan x="556">六、担任附带民事诉讼当事人的诉</tspan><tspan x="556" dy="25">讼代理人</tspan></text></g>
<g id="b9a" class="lf lr"><rect x="211" y="3086" width="308" height="70.4" rx="5"/><text x="218" y="3107.6"><tspan x="218">律师可以接受公诉案件被害人，自诉案件自诉</tspan><tspan x="218" dy="18.8">人及其法定代理人的委托，在一审、二审程序</tspan><tspan x="218" dy="18.8">中，担任附带民事诉讼的诉讼代理人。</tspan></text></g>
<g id="b9b" class="lf lr"><rect x="211" y="3189" width="308" height="70.4" rx="5"/><text x="218" y="3210.6"><tspan x="218">律师可以接受附带民事诉讼的被告人及其法定</tspan><tspan x="218" dy="18.8">代理人的委托，在一审、二审程序中，担任诉</tspan><tspan x="218" dy="18.8">讼代理人</tspan></text></g>
</svg>
